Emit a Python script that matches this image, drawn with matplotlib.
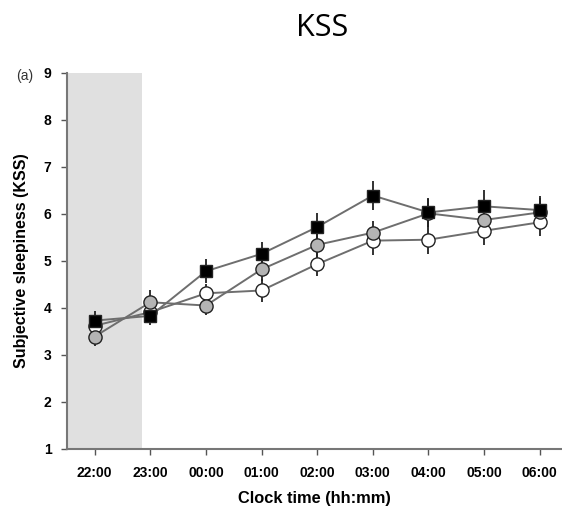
import numpy as np
import matplotlib.pyplot as plt

plt.rcParams['font.family'] = ['Liberation Sans', 'DejaVu Sans']

times = ['22:00', '23:00', '00:00', '01:00', '02:00', '03:00', '04:00', '05:00', '06:00']
black = [3.73, 3.83, 4.78, 5.15, 5.72, 6.39, 6.03, 6.16, 6.08]
black_err = [0.2, 0.2, 0.25, 0.25, 0.3, 0.3, 0.3, 0.35, 0.3]
grey = [3.39, 4.12, 4.05, 4.82, 5.34, 5.60, 6.01, 5.87, 6.03]
grey_err = [0.2, 0.25, 0.2, 0.25, 0.25, 0.25, 0.3, 0.25, 0.3]
white = [3.62, 3.91, 4.31, 4.37, 4.93, 5.43, 5.45, 5.64, 5.82]
white_err = [0.15, 0.2, 0.2, 0.25, 0.25, 0.3, 0.3, 0.3, 0.3]

x = np.arange(len(times))

fig = plt.figure(figsize=(5.62, 5.09), dpi=100)
ax = fig.add_axes([0.119, 0.118, 0.881, 0.739])

# grey shaded period
ax.axvspan(-0.5, 0.85, color='#e0e0e0', lw=0, zorder=0)

for y, e, m, fc, ms in [(white, white_err, 'o', 'white', 9.5),
                        (grey, grey_err, 'o', '#b4b4b4', 9.5),
                        (black, black_err, 's', 'black', 8.5)]:
    ax.errorbar(x, y, yerr=e, fmt='none', ecolor='#222222', elinewidth=1.3, capsize=0, zorder=2)
    ax.plot(x, y, color='#6e6e6e', lw=1.4, zorder=1)
    ax.plot(x, y, m, ms=ms, mfc=fc, mec='#222222', mew=1.0, zorder=3)

ax.set_xlim(-0.5, 8.4)
ax.set_ylim(1, 9)
ax.set_xticks(x)
ax.set_xticklabels(times, fontweight='bold', fontsize=10)
ax.set_yticks(range(1, 10))
ax.set_yticklabels(range(1, 10), fontweight='bold', fontsize=10)
ax.tick_params(axis='both', direction='out', length=4, color='#555555', width=1)
ax.tick_params(axis='x', pad=8)
ax.tick_params(axis='y', pad=7)

for s in ['top', 'right']:
    ax.spines[s].set_visible(False)
for s in ['left', 'bottom']:
    ax.spines[s].set_color('#777777')
    ax.spines[s].set_linewidth(1.5)

ax.set_xlabel('Clock time (hh:mm)', fontweight='bold', fontsize=11.8, labelpad=8)
ax.set_ylabel('Subjective sleepiness (KSS)', fontweight='bold', fontsize=11.5, labelpad=11)

fig.text(0.573, 0.945, 'KSS', fontsize=22, family='Open Sans', ha='center', va='center')
fig.text(0.044, 0.851, '(a)', fontsize=10, ha='center', va='center', color='#333333')

fig.savefig('out.png', dpi=100)
